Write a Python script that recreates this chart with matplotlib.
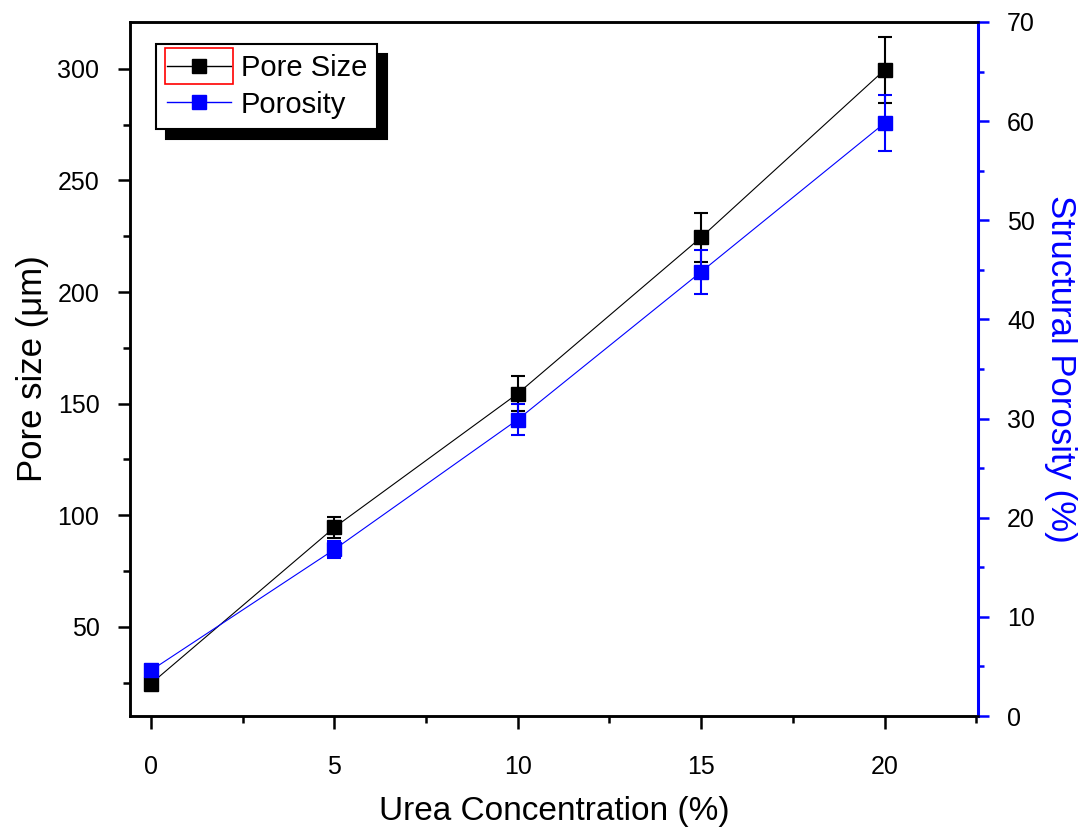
import matplotlib.pyplot as plt
from matplotlib.ticker import MultipleLocator
from matplotlib.patches import Rectangle
from matplotlib.lines import Line2D

plt.rcParams['font.family'] = ['Liberation Sans', 'DejaVu Sans']

# ------------------ DATA -----------------------------------------
urea = [0, 5, 10, 15, 20]
poreSize = [24.5, 94.5, 154.5, 224.5, 299.5]
poreErr = [2, 4.5, 8, 11, 15]
porosity = [4.6, 16.8, 29.9, 44.8, 59.8]
porosityErr = [0.5, 0.9, 1.6, 2.2, 2.8]
# -----------------------------------------------------------------

fig = plt.figure(figsize=(10.8, 8.3), dpi=100)
ax = fig.add_axes([0.1204, 0.1373, 0.7852, 0.8362])
ax2 = ax.twinx()

ax.errorbar(urea, poreSize, yerr=poreErr, color='black', marker='s', markersize=10,
            linewidth=0.8, elinewidth=1.5, capsize=5, capthick=1.5)
ax2.errorbar(urea, porosity, yerr=porosityErr, color='blue', marker='s', markersize=10,
             linewidth=0.8, elinewidth=1.5, capsize=5, capthick=1.5)

ax.set_xlim(-0.57, 22.55)
ax.set_ylim(10, 321)
ax2.set_ylim(0, 70)

ax.xaxis.set_major_locator(MultipleLocator(5))
ax.xaxis.set_minor_locator(MultipleLocator(2.5))
ax.yaxis.set_major_locator(MultipleLocator(50))
ax.yaxis.set_minor_locator(MultipleLocator(25))
ax2.yaxis.set_major_locator(MultipleLocator(10))
ax2.yaxis.set_minor_locator(MultipleLocator(5))

ax.tick_params(which='both', direction='out', width=1.8, labelsize=18, top=False, pad=13)
ax.tick_params(axis='x', which='both', pad=19)
ax.tick_params(which='major', length=9)
ax.tick_params(which='minor', length=5)
ax2.tick_params(which='both', direction='out', width=1.8, colors='blue', labelsize=18, pad=13)
ax2.tick_params(which='major', length=8)
ax2.tick_params(which='minor', length=4)
ax2.tick_params(axis='y', labelcolor='black')

for s in ['left', 'bottom', 'top']:
    ax.spines[s].set_linewidth(1.8)
    ax2.spines[s].set_linewidth(1.8)
ax2.spines['right'].set_color('blue')
ax2.spines['right'].set_linewidth(2.2)
ax.spines['right'].set_visible(False)

ax.set_xlabel('Urea Concentration (%)', fontsize=24, labelpad=12)
ax.set_ylabel('Pore size (\u03bcm)', fontsize=25, labelpad=6)
ax2.set_ylabel('Structural Porosity (%)', fontsize=25, color='blue', rotation=270, labelpad=30)

handles = [Line2D([], [], color='black', marker='s', markersize=10, linewidth=1),
           Line2D([], [], color='blue', marker='s', markersize=10, linewidth=1)]
leg = ax.legend(handles, ['Pore Size', 'Porosity'], loc='upper left',
                bbox_to_anchor=(0.031, 0.968), fontsize=21, fancybox=False,
                shadow={'ox': 7, 'oy': -7, 'color': 'black', 'alpha': 1},
                framealpha=1, edgecolor='black', handlelength=2.2,
                borderpad=0.35, labelspacing=0.28, handletextpad=0.35, borderaxespad=0)
leg.get_frame().set_linewidth(1.5)

# red selection box around the first legend handle (pixel sized)
fig.canvas.draw()
bb = leg.legend_handles[0].get_window_extent()
cx, cy = (bb.x0 + bb.x1) / 2, (bb.y0 + bb.y1) / 2
w, h = 68, 36
fig.patches.append(Rectangle((cx - w / 2, cy - h / 2), w, h, transform=None,
                             fill=False, edgecolor='red', linewidth=1.2, zorder=10))

plt.savefig('out.png', dpi=100)
